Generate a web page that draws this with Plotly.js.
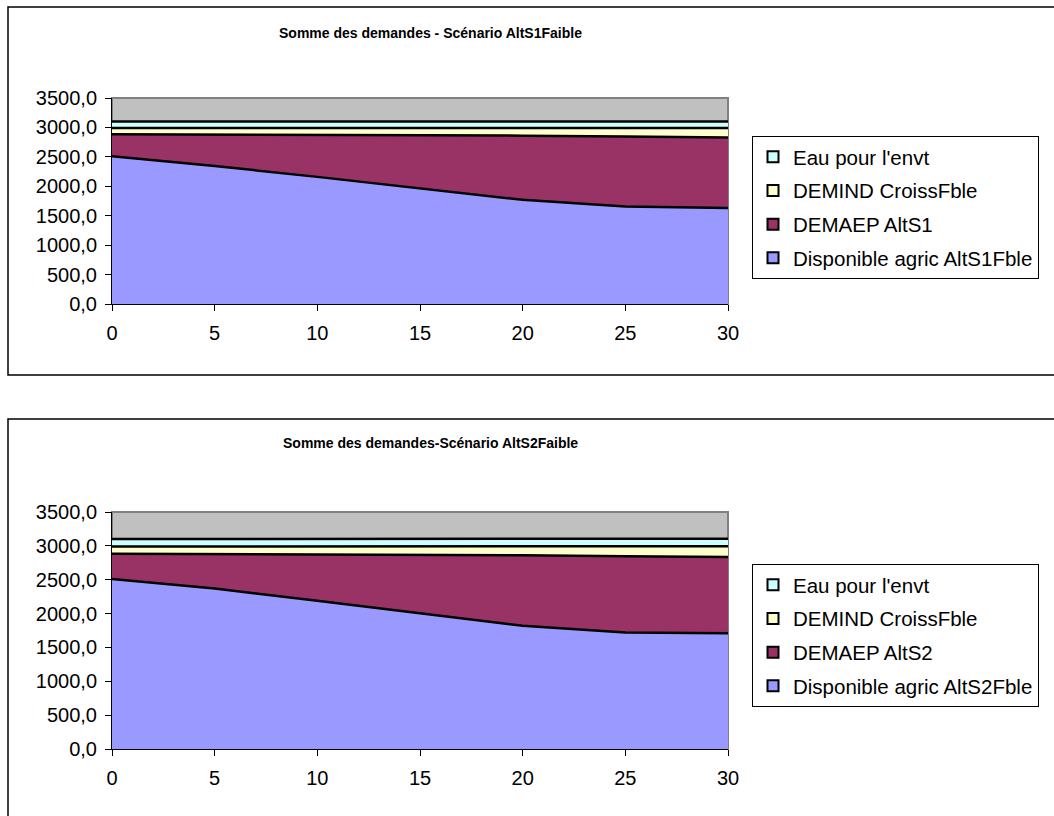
<!DOCTYPE html>
<html>
<head>
<meta charset="utf-8">
<script src="https://cdn.plot.ly/plotly-3.0.1.min.js"></script>
<style>html,body{margin:0;padding:0;background:#fff}#chart{width:1054px;height:816px}</style>
</head>
<body>
<div id="chart"></div>
<script>
// ---- data ----
const years = [0, 5, 10, 15, 20, 25, 30];

// Chart 1 : Scénario AltS1Faible
const dispoS1 = [2510, 2345, 2160, 1970, 1770, 1655, 1630];
const demaepS1 = [375, 535, 715, 900, 1090, 1190, 1200];
const demindS1 = [105, 110, 115, 120, 130, 145, 160];
const eauS1 = [110, 110, 110, 110, 110, 110, 110];

// Chart 2 : Scénario AltS2Faible
const dispoS2 = [2510, 2370, 2190, 2000, 1820, 1720, 1710];
const demaepS2 = [375, 510, 685, 870, 1040, 1125, 1125];
const demindS2 = [105, 110, 115, 120, 130, 145, 160];
const eauS2 = [110, 110, 110, 110, 110, 110, 110];

const title1 = "Somme des demandes - Scénario AltS1Faible";
const title2 = "Somme des demandes-Scénario AltS2Faible";
const names1 = ["Disponible agric AltS1Fble", "DEMAEP AltS1", "DEMIND CroissFble", "Eau pour l'envt"];
const names2 = ["Disponible agric AltS2Fble", "DEMAEP AltS2", "DEMIND CroissFble", "Eau pour l'envt"];
const colors = ["#9999FF", "#993366", "#FFFFCC", "#CCFFFF"];

const FONT = "Liberation Sans, Arial, sans-serif";
const W = 1054, H = 816;
const px = v => v / W, py = v => 1 - v / H;

const traces = [];
function addStack(series, names, xa, ya, grp, leg) {
  series.forEach((s, i) => {
    traces.push({
      x: years, y: s, xaxis: xa, yaxis: ya, type: 'scatter', mode: 'lines',
      stackgroup: grp, fillcolor: colors[i], line: {color: '#000', width: 2.5, shape: 'linear'},
      name: names[i], showlegend: false, hoverinfo: 'skip'
    });
  });
  // legend entries (square swatches like the original), top series listed first
  for (let i = names.length - 1; i >= 0; i--) {
    traces.push({
      x: [null], y: [null], xaxis: xa, yaxis: ya, type: 'scatter', mode: 'markers',
      marker: {symbol: 'square', size: 11, color: colors[i], line: {color: '#000', width: 2}},
      name: names[i], legend: leg, legendgroup: leg + i, showlegend: true, hoverinfo: 'skip'
    });
  }
}
addStack([dispoS1, demaepS1, demindS1, eauS1], names1, 'x', 'y', 'one', 'legend');
addStack([dispoS2, demaepS2, demindS2, eauS2], names2, 'x2', 'y2', 'two', 'legend2');

const xdom = [px(112), px(728)];
function xax(anchor) {
  return {domain: xdom, anchor: anchor, range: [0, 30], tickvals: years, ticktext: years.map(String),
    showgrid: false, zeroline: false, showline: true, linecolor: '#000', linewidth: 1,
    ticks: 'outside', ticklen: 6, tickcolor: '#000', ticklabelstandoff: 5,
    tickfont: {family: FONT, size: 20, color: '#000'}, fixedrange: true};
}
function yax(anchor, top, bottom) {
  return {domain: [py(bottom), py(top)], anchor: anchor, range: [0, 3500], dtick: 500, tick0: 0,
    tickformat: '.1f', showgrid: false, zeroline: false, showline: true, linecolor: '#000', linewidth: 1,
    ticks: 'outside', ticklen: 6, tickcolor: '#000', ticklabelstandoff: 4,
    tickfont: {family: FONT, size: 20, color: '#000'}, fixedrange: true};
}
function legendCfg(topY) {
  return {x: px(752), y: py(topY), xanchor: 'left', yanchor: 'top', bgcolor: '#fff',
    bordercolor: '#000', borderwidth: 1, font: {family: FONT, size: 20.5, color: '#000'},
    traceorder: 'grouped', tracegroupgap: 4, itemwidth: 30};
}

const layout = {
  width: W, height: H, margin: {l: 0, r: 0, t: 0, b: 0},
  paper_bgcolor: '#fff', plot_bgcolor: '#C0C0C0', separators: ', ',
  font: {family: FONT, color: '#000'},
  xaxis: xax('y'), yaxis: yax('x', 98, 304),
  xaxis2: xax('y2'), yaxis2: yax('x2', 512, 749),
  legend: legendCfg(136), legend2: legendCfg(564),
  showlegend: true,
  annotations: [
    {text: '<b>' + title1 + '</b>', xref: 'paper', yref: 'paper', x: px(430), y: py(33),
     xanchor: 'center', yanchor: 'middle', showarrow: false, font: {family: FONT, size: 14, color: '#000'}},
    {text: '<b>' + title2 + '</b>', xref: 'paper', yref: 'paper', x: px(430), y: py(443),
     xanchor: 'center', yanchor: 'middle', showarrow: false, font: {family: FONT, size: 14, color: '#000'}}
  ],
  shapes: [
    {type: 'rect', xref: 'paper', yref: 'paper', x0: px(8), x1: 1.02, y0: py(375), y1: py(7),
     line: {color: '#000', width: 1.5}, fillcolor: 'rgba(0,0,0,0)', layer: 'below'},
    {type: 'rect', xref: 'paper', yref: 'paper', x0: px(8), x1: 1.02, y0: -0.02, y1: py(419),
     line: {color: '#000', width: 1.5}, fillcolor: 'rgba(0,0,0,0)', layer: 'below'},
    {type: 'rect', xref: 'x domain', yref: 'y domain', x0: 0, x1: 1, y0: 0, y1: 1,
     line: {color: '#808080', width: 2}, layer: 'below'},
    {type: 'rect', xref: 'x2 domain', yref: 'y2 domain', x0: 0, x1: 1, y0: 0, y1: 1,
     line: {color: '#808080', width: 2}, layer: 'below'}
  ]
};

Plotly.newPlot('chart', traces, layout, {staticPlot: true, displayModeBar: false});
</script>
</body>
</html>
